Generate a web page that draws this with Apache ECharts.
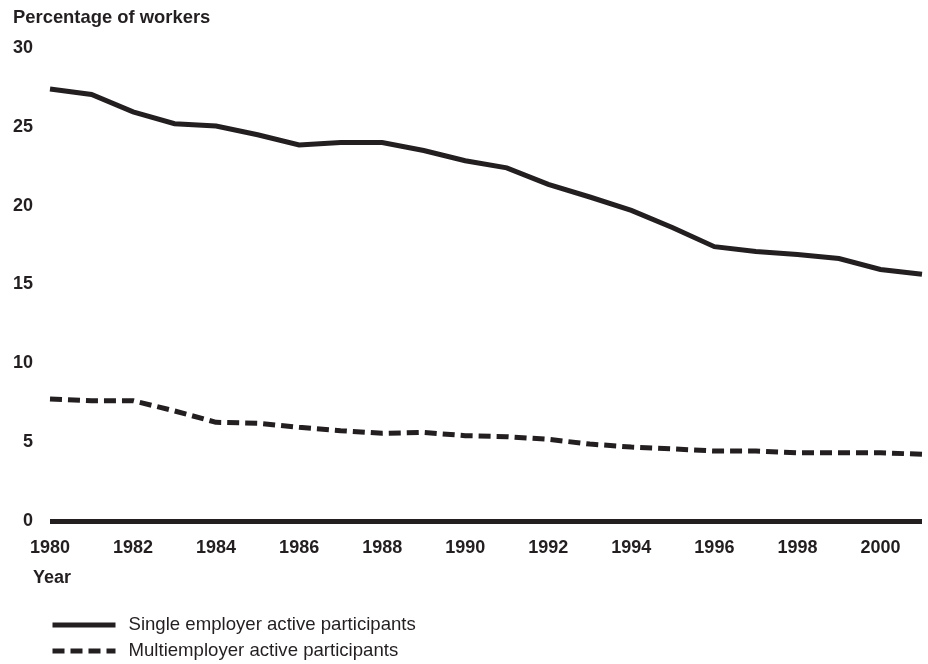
<!DOCTYPE html>
<html>
<head>
<meta charset="utf-8">
<script src="https://cdn.jsdelivr.net/npm/echarts@6/dist/echarts.min.js"></script>
<style>
html,body{margin:0;padding:0;background:#fff;}
#chart{width:928px;height:664px;}
</style>
</head>
<body>
<div id="chart"></div>
<script>
var years = ['1980','1981','1982','1983','1984','1985','1986','1987','1988','1989','1990','1991','1992','1993','1994','1995','1996','1997','1998','1999','2000','2001'];
var singleEmployer = [27.4,27.05,25.95,25.2,25.05,24.5,23.85,24.0,24.0,23.5,22.85,22.4,21.35,20.55,19.7,18.6,17.4,17.1,16.9,16.65,15.95,15.65];
var multiEmployer = [7.74,7.63,7.63,6.98,6.26,6.2,5.94,5.73,5.56,5.62,5.41,5.35,5.18,4.88,4.69,4.57,4.44,4.44,4.33,4.33,4.33,4.23];
var yTicks = [0,5,10,15,20,25,30];
var seriesNames = ['Single employer active participants','Multiemployer active participants'];

var ink = '#231f20';
var font = 'Liberation Sans, Arial, Helvetica, sans-serif';
var chart = echarts.init(document.getElementById('chart'), null, {renderer:'canvas'});
chart.setOption({
  animation:false,
  backgroundColor:'#fff',
  title:[
    {text:'Percentage of workers', left:13, top:9, padding:0,
     textStyle:{fontFamily:font, fontWeight:'bold', fontSize:18.4, color:ink}},
    {text:'Year', left:33, top:569, padding:0,
     textStyle:{fontFamily:font, fontWeight:'bold', fontSize:18, color:ink}}
  ],
  grid:{left:50, right:6, top:48, bottom:143, containLabel:false},
  legend:{
    orient:'vertical', left:50, top:615, height:48, itemGap:6, itemWidth:63, itemHeight:16,
    padding:0, selectedMode:false,
    itemStyle:{opacity:0},
    lineStyle:{width:5},
    textStyle:{fontFamily:font, fontSize:18.6, lineHeight:20, color:ink, padding:[0,0,0,8]},
    data:seriesNames
  },
  xAxis:{
    type:'category', data:years, boundaryGap:false,
    axisLine:{show:true, lineStyle:{color:ink, width:5, cap:'butt'}},
    axisTick:{show:false},
    splitLine:{show:false},
    axisLabel:{interval:1, margin:18, fontFamily:font, fontWeight:'bold', fontSize:18, color:ink}
  },
  yAxis:{
    type:'value', min:yTicks[0], max:yTicks[yTicks.length-1], interval:5,
    axisLine:{show:false}, axisTick:{show:false}, splitLine:{show:false},
    axisLabel:{margin:17, fontFamily:font, fontWeight:'bold', fontSize:18, color:ink}
  },
  series:[
    {name:seriesNames[0], type:'line', data:singleEmployer, symbol:'none', z:3,
     lineStyle:{color:ink, width:5, cap:'butt', join:'miter'}, itemStyle:{color:ink}},
    {name:seriesNames[1], type:'line', data:multiEmployer, symbol:'none', z:3,
     lineStyle:{color:ink, width:5, type:[12,6], cap:'butt'}, itemStyle:{color:ink}}
  ]
});
</script>
</body>
</html>
